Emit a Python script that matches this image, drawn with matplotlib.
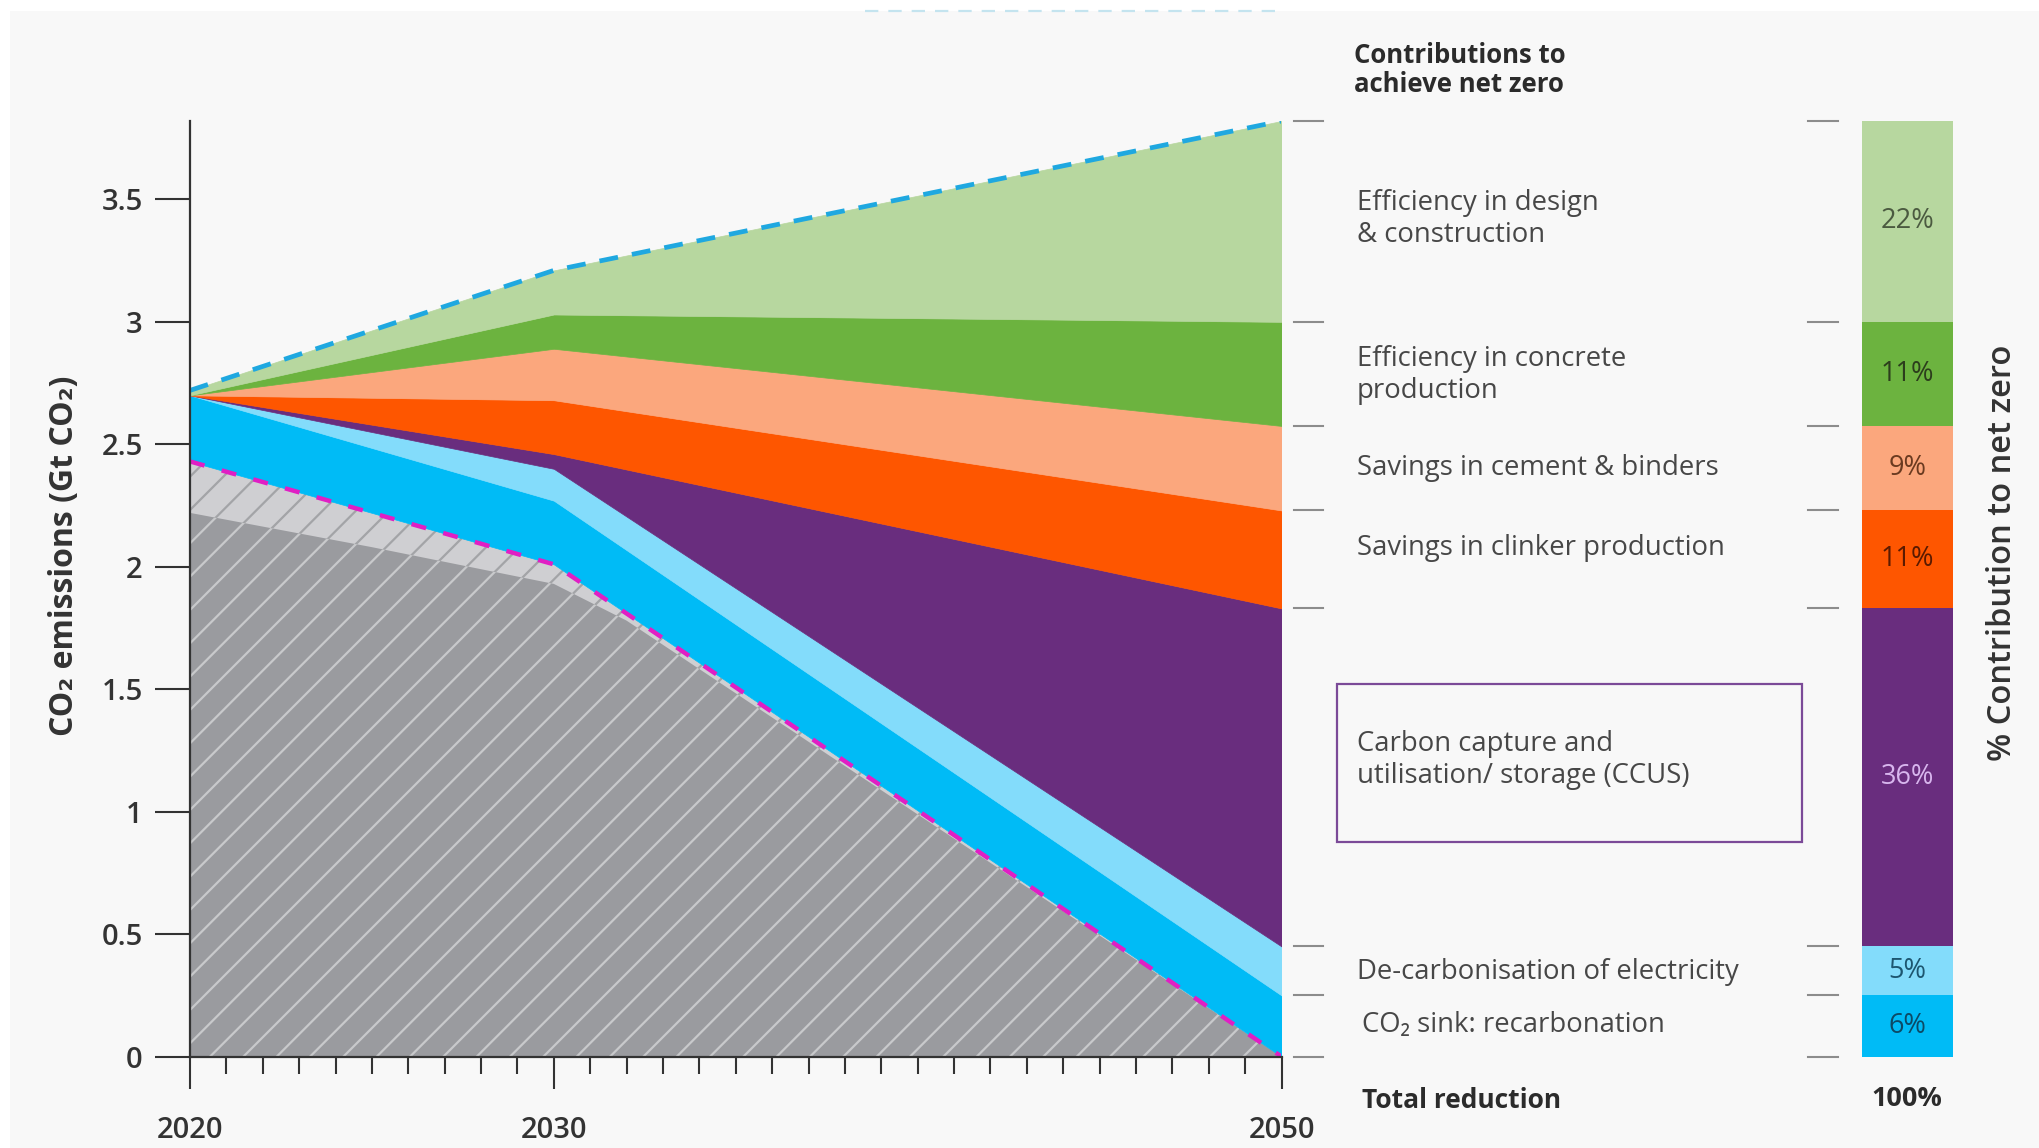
import matplotlib
matplotlib.use("Agg")
import matplotlib.pyplot as plt
from matplotlib.patches import Rectangle
from matplotlib.lines import Line2D

plt.rcParams['font.family'] = ['Open Sans', 'DejaVu Sans']
plt.rcParams['hatch.linewidth'] = 1.6

# ---------------- data ----------------
years = [2020, 2030, 2050]
baseline_top = [2.72, 3.21, 3.82]          # dashed "business as usual" line
dark_green_top = [2.70, 3.03, 3.00]
peach_top = [2.70, 2.89, 2.575]
orange_top = [2.70, 2.68, 2.23]
purple_top = [2.70, 2.46, 1.83]
lightblue_top = [2.70, 2.40, 0.45]
cyan_top = [2.70, 2.27, 0.25]
netzero_path = [2.43, 2.01, 0.0]           # magenta dashed line

grey_years = [2020, 2025, 2030, 2032, 2050]
grey_top = [2.22, 2.08, 1.93, 1.78, 0.0]

categories = ["Efficiency in design\n& construction",
              "Efficiency in concrete\nproduction",
              "Savings in cement & binders",
              "Savings in clinker production",
              "Carbon capture and\nutilisation/ storage (CCUS)",
              "De-carbonisation of electricity",
              "CO\u2082 sink: recarbonation"]
pct_labels = ["22%", "11%", "9%", "11%", "36%", "5%", "6%"]
label_y = [3.42, 2.783, 2.403, 2.077, 1.211, 0.346, 0.129]

y_ticks = [0, 0.5, 1, 1.5, 2, 2.5, 3, 3.5]
y_ticklabels = ["0", "0.5", "1", "1.5", "2", "2.5", "3", "3.5"]
x_major = [2020, 2030, 2050]

colors = {
    'lightgreen': '#b7d79f', 'darkgreen': '#6cb33f', 'peach': '#fba77d',
    'orange': '#fe5600', 'purple': '#692d7e', 'lightblue': '#83dcfb',
    'cyan': '#00bbf6'
}
pct_colors = ['#4b5a40', '#2c3d1c', '#6a3a20', '#5a1a00', '#d8b6ee', '#1d5670', '#0c4a66']

# ---------------- figure ----------------
W, H = 2040, 1148
fig = plt.figure(figsize=(W / 100, H / 100), dpi=100)
fig.patch.set_facecolor('white')
fig.add_artist(Rectangle((10 / W, 0), 1, 1 - 11 / H, transform=fig.transFigure,
                         facecolor='#f8f8f8', edgecolor='none', zorder=-10))
# faint dashed line at very top
fig.add_artist(Line2D([865 / W, 1283 / W], [1 - 11 / H, 1 - 11 / H], transform=fig.transFigure,
                      color='#c4e4ef', lw=1.6, dashes=(6, 4.5)))

ax_left, ax_right = 190 / W, 1281.5 / W
ax_bottom_px, ax_top_px = 1056.6, 121
bottom = 1 - ax_bottom_px / H
height = (ax_bottom_px - ax_top_px) / H
ax = fig.add_axes([ax_left, bottom, ax_right - ax_left, height])
ax.set_facecolor('none')
ax.set_xlim(2020, 2050)
ax.set_ylim(0, 3.82)

# grey hatched regions
ax.fill_between(years, 0, netzero_path, facecolor='#cfcfd2', edgecolor='#a3a4a7',
                hatch='/', linewidth=0, zorder=1)
ax.fill_between(grey_years, 0, grey_top, facecolor='#9a9b9f', edgecolor='#c8c9cb',
                hatch='/', linewidth=0, zorder=2)

# stacked contribution layers
layers = [
    (netzero_path, cyan_top, colors['cyan']),
    (cyan_top, lightblue_top, colors['lightblue']),
    (lightblue_top, purple_top, colors['purple']),
    (purple_top, orange_top, colors['orange']),
    (orange_top, peach_top, colors['peach']),
    (peach_top, dark_green_top, colors['darkgreen']),
    (dark_green_top, baseline_top, colors['lightgreen']),
]
for lo, hi, c in layers:
    ax.fill_between(years, lo, hi, facecolor=c, edgecolor=c, linewidth=0.5, zorder=3)

ax.plot(years, baseline_top, color='#1fa8e0', lw=3.4, dashes=(4.0, 3.0), zorder=5,
        dash_capstyle='butt')
ax.plot(years, netzero_path, color='#e01fc4', lw=3.2, dashes=(3.4, 4.0), zorder=5,
        dash_capstyle='butt')

for s in ['top', 'right']:
    ax.spines[s].set_visible(False)
for s in ['left', 'bottom']:
    ax.spines[s].set_color('#333333')
    ax.spines[s].set_linewidth(1.6)
    ax.spines[s].set_zorder(6)

ax.set_yticks(y_ticks)
ax.set_yticklabels(y_ticklabels)
ax.tick_params(axis='y', length=25, width=1.5, color='#333333', pad=9,
               labelsize=21, labelcolor='#333333')
for t in ax.get_yticklabels():
    t.set_fontweight('semibold')
ax.set_xticks(x_major)
ax.set_xticklabels([str(v) for v in x_major])
ax.set_xticks([y for y in range(2021, 2050) if y not in x_major], minor=True)
ax.tick_params(axis='x', which='major', length=23, width=1.5, color='#333333',
               pad=20, labelsize=21, labelcolor='#333333')
ax.tick_params(axis='x', which='minor', length=12, width=1.5, color='#333333')
for t in ax.get_xticklabels():
    t.set_fontweight('semibold')

fig.text(65 / W, 1 - 556 / H, "CO\u2082 emissions (Gt CO\u2082)", rotation=90,
         ha='center', va='center', fontsize=23, fontweight='bold', color='#333333')

# ---------------- right panel ----------------
ax2 = fig.add_axes([ax_right, bottom, 1 - ax_right, height])
ax2.set_xlim(0, 1)
ax2.set_ylim(0, 3.82)
ax2.axis('off')

bounds_2050 = [0.0, cyan_top[2], lightblue_top[2], purple_top[2], orange_top[2],
               peach_top[2], dark_green_top[2], baseline_top[2]]
seg_colors = [colors['cyan'], colors['lightblue'], colors['purple'], colors['orange'],
              colors['peach'], colors['darkgreen'], colors['lightgreen']]
seg_heights = [bounds_2050[i + 1] - bounds_2050[i] for i in range(7)]
ax2.bar([0.825] * 7, seg_heights, bottom=bounds_2050[:7], width=0.12,
        color=seg_colors, linewidth=0)

for b in bounds_2050:
    ax2.plot([0.0165, 0.055], [b, b], color='#8c8c8c', lw=1.5, clip_on=False)
    ax2.plot([0.694, 0.734], [b, b], color='#8c8c8c', lw=1.5, clip_on=False)

# percent labels (top to bottom order in lists)
rev_bounds = bounds_2050[::-1]
for i, (p, pc) in enumerate(zip(pct_labels, pct_colors)):
    yc = (rev_bounds[i] + rev_bounds[i + 1]) / 2
    ax2.text(0.825, yc, p, ha='center', va='center', fontsize=19.5, color=pc)

for i, (lab, yv) in enumerate(zip(categories, label_y)):
    xx = 0.106 if i == 6 else 0.0995
    ax2.text(xx, yv, lab, ha='left', va='center', fontsize=19.8, color='#474747',
             linespacing=1.2)

ax2.add_patch(Rectangle((0.073, 0.876), 0.686 - 0.073, 1.521 - 0.876,
                        facecolor='none', edgecolor='#7b4a98', lw=1.6, clip_on=False))

ax2.text(0.095, 4.03, "Contributions to\nachieve net zero", ha='left', va='center',
         fontsize=18.5, fontweight='bold', color='#2b2b2b', linespacing=1.1)
ax2.text(0.106, -0.181, "Total reduction", ha='left', va='center', fontsize=19,
         fontweight='bold', color='#2b2b2b')
ax2.text(0.825, -0.173, "100%", ha='center', va='center', fontsize=19.5,
         fontweight='bold', color='#2b2b2b')
ax2.text(0.951, 2.056, "% Contribution to net zero", rotation=90, ha='center',
         va='center', fontsize=23.5, fontweight='semibold', color='#333333')

fig.savefig("out.png", dpi=100)
